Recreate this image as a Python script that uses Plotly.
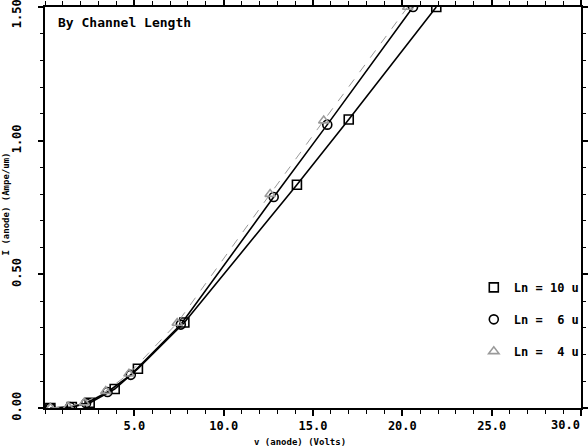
import plotly.graph_objects as go

# Ln = 10 u (squares, solid)
x10 = [0.3, 1.5, 2.5, 3.9, 5.2, 7.8, 14.1, 17.0, 21.9]
y10 = [0.0, 0.004, 0.019, 0.071, 0.147, 0.320, 0.835, 1.079, 1.500]
# Ln = 6 u (circles, solid)
x6 = [0.3, 1.4, 2.3, 3.5, 4.8, 7.6, 12.8, 15.8, 20.6]
y6 = [0.0, 0.004, 0.018, 0.060, 0.124, 0.312, 0.789, 1.060, 1.500]
# Ln = 4 u (triangles, dashed gray)
x4 = [0.3, 1.3, 2.2, 3.4, 4.7, 7.4, 12.6, 15.6, 20.3]
y4 = [0.0, 0.005, 0.020, 0.063, 0.128, 0.318, 0.800, 1.075, 1.500]

names = ["Ln\u00a0=\u00a010\u00a0u", "Ln\u00a0=\u00a0\u00a06\u00a0u", "Ln\u00a0=\u00a0\u00a04\u00a0u"]
xticks = [5, 10, 15, 20, 25, 30]
xticktext = ["5.0", "10.0", "15.0", "20.0", "25.0", "30.0"]
yticks = [0.0, 0.5, 1.0, 1.5]
yticktext = ["0.00", "0.50", "1.00", "1.50"]

FONT = "DejaVu Sans Mono"
TF = dict(family=FONT, size=12, color="black", weight="bold")
fig = go.Figure()

series = [
    (x10, y10, "square-open", "black", "solid", names[0]),
    (x6, y6, "circle-open", "black", "solid", names[1]),
    (x4, y4, "triangle-up-open", "#9a9a9a", "dash", names[2]),
]
for i, (xs, ys, sym, col, dash, nm) in enumerate(series):
    fig.add_trace(go.Scatter(
        x=xs, y=ys, mode="lines+markers", showlegend=False, cliponaxis=True,
        line=dict(color=col, width=1.6 if dash == "solid" else 1.0, dash=dash),
        marker=dict(symbol=sym, size=9, color=col, line=dict(width=1.6, color=col)),
    ))
for i, (xs, ys, sym, col, dash, nm) in enumerate(series):
    fig.add_trace(go.Scatter(
        x=[None], y=[None], mode="markers", name=nm, legendgroup=str(i),
        marker=dict(symbol=sym, size=9, color=col, line=dict(width=1.6, color=col)),
    ))

# tick labels at the edges (last x tick, last y tick) kept inside the page
xt_last = xticktext[-1]
yt_last = yticktext[-1]
xticktext_axis = xticktext[:-1] + [""]
yticktext_axis = yticktext[:-1] + [""]
fig.add_annotation(x=1.0, y=-0.0424, xref="paper", yref="paper", xanchor="right", yanchor="middle",
                   text=xt_last, showarrow=False, font=TF, borderpad=0)
fig.add_annotation(x=-0.052, y=0.9825, xref="paper", yref="paper", xanchor="center", yanchor="middle",
                   text=yt_last, showarrow=False, font=TF, textangle=-90, borderpad=0)

fig.add_annotation(x=0.02, y=0.985, xref="paper", yref="paper", xanchor="left", yanchor="top",
                   text="By Channel Length", showarrow=False,
                   font=dict(family=FONT, size=13, color="black", weight="bold"))
fig.add_annotation(x=14.3, y=-0.068, xref="x", yref="paper", xanchor="center", yanchor="top",
                   text="v (anode) (Volts)", showarrow=False,
                   font=dict(family=FONT, size=9, color="black", weight="bold"))
fig.add_annotation(x=-0.071, y=0.51, xref="paper", yref="paper", xanchor="center", yanchor="middle",
                   text="I (anode) (Ampe/um)", showarrow=False, textangle=-90,
                   font=dict(family=FONT, size=9, color="black", weight="bold"))

fig.update_layout(
    width=588, height=448,
    margin=dict(l=45, r=7, t=7, b=40, autoexpand=False),
    paper_bgcolor="white", plot_bgcolor="white",
    font=TF,
    legend=dict(x=0.80, y=0.337, xanchor="left", yanchor="top", bgcolor="rgba(0,0,0,0)",
                font=TF, tracegroupgap=13, itemwidth=30),
    xaxis=dict(range=[0, 30], tickvals=xticks, ticktext=xticktext_axis, showgrid=False, zeroline=False,
               showline=True, linecolor="black", linewidth=1.5, mirror="ticks", automargin=False,
               ticks="outside", ticklen=6, tickcolor="black", tickwidth=1.5,
               minor=dict(dtick=1, ticks="outside", ticklen=4, tickcolor="black", tickwidth=1),
               tickfont=TF),
    yaxis=dict(range=[0, 1.5], tickvals=yticks, ticktext=yticktext_axis, showgrid=False, zeroline=False,
               showline=True, linecolor="black", linewidth=1.5, mirror="ticks", automargin=False,
               ticks="outside", ticklen=5, tickcolor="black", tickwidth=1.5,
               minor=dict(dtick=0.1, ticks="outside", ticklen=3, tickcolor="black", tickwidth=1),
               tickangle=-90, ticklabelstandoff=12, tickfont=TF),
)
fig.write_html("out.html")
